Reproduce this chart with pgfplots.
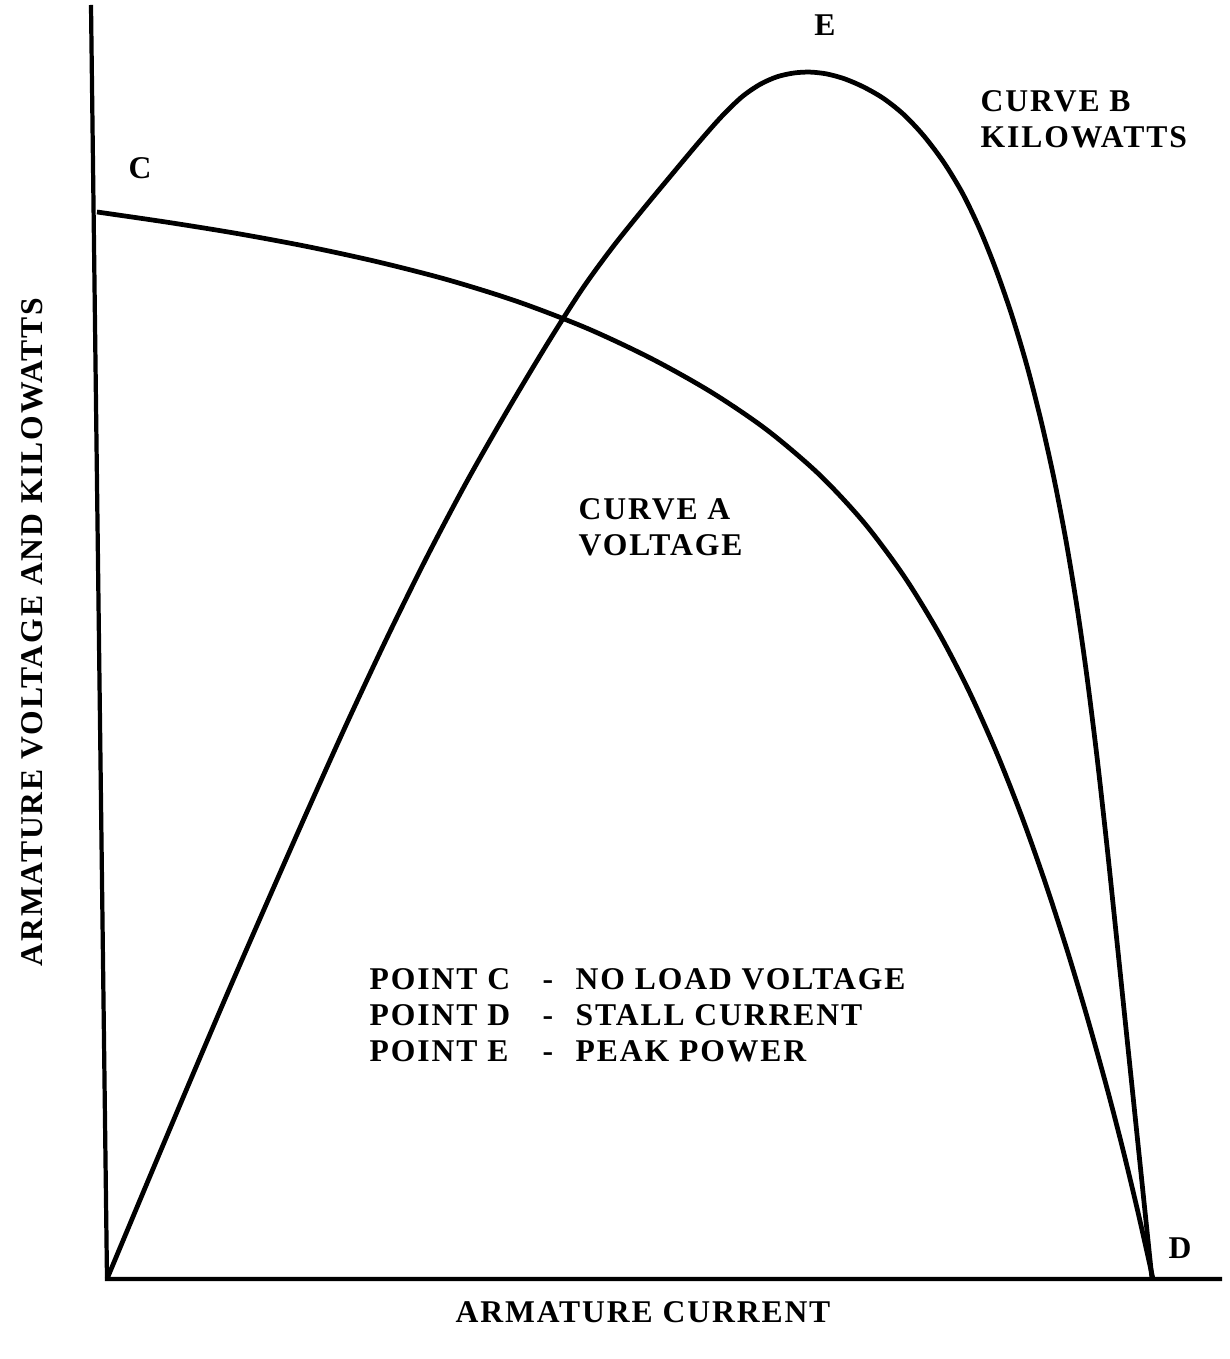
\documentclass[border=0pt]{standalone}
\usepackage{pgfplots}
\pgfplotsset{compat=1.18}
\usepackage{fontspec}
\setmainfont{Liberation Serif}[LetterSpace=6]

\tikzset{lbl/.style={font=\fontsize{9}{10.3}\selectfont\bfseries, align=left, inner sep=0pt}}

\begin{document}
\begin{tikzpicture}
\begin{axis}[
    scale only axis,
    width=123mm,
    height=135.9mm,
    xmin=-107, xmax=1123,
    ymin=-80, ymax=1279,
    axis lines=none,
    ticks=none,
    clip=false,
    every axis plot/.append style={black, line width=1.35pt, no markers},
]

% axes drawn as data lines (y axis leans slightly in the original)
\addplot[line width=1.2pt] coordinates {(-16,1274) (0,0) (1115,0)};

% Curve A: voltage
\addplot[smooth] coordinates {
    (-10,1067) (60,1056.8) (130,1045.5) (200,1032.5) (270,1017.3)
    (340,999.4) (410,977.6) (480,950.7) (545,920.1) (605,886.4)
    (660,849) (712,804.7) (757,756.4) (797,702.8) (832,645.7)
    (862,587.9) (890,525.3) (915,461.9) (938,397.1) (960,329.2)
    (980,262.4) (1000,190.8) (1016,129.1) (1031,66.7) (1046,0)
};

% Curve B: kilowatts
\addplot[smooth] coordinates {
    (0,0) (40,95.7) (80,190.7) (120,284.6) (160,376.4) (200,467.1)
    (240,556) (280,641.2) (320,722.2) (360,797.8) (400,867.9)
    (440,934.7) (475,989.7) (505,1031) (535,1068.5) (565,1104.7)
    (593,1138.1) (615,1162.9) (635,1182.2) (653,1194.6) (670,1202.2)
    (687,1206) (703,1206.9) (720,1205) (738,1200) (757,1191.8)
    (777,1180.2) (797,1164.2) (817,1142.9) (837,1116.3) (856,1084.8)
    (873,1049.2) (889,1009.3) (905,963.2) (920,913) (934,858.4)
    (947,800.4) (959,738.2) (970,672) (980,602) (990,522)
    (1000,432.7) (1009,346.7) (1018,260) (1027,173.4) (1036,86.7)
    (1045,0)
};

\node[lbl] at (axis cs:718,1254) {E};
\node[lbl] at (axis cs:33,1111) {C};
\node[lbl] at (axis cs:1073,31) {D};
\node[lbl, anchor=west] at (axis cs:873,1157) {\strut CURVE B\\\strut KILOWATTS};
\node[lbl, anchor=west] at (axis cs:471,749) {\strut CURVE A\\\strut VOLTAGE};

\node[lbl, anchor=west] at (axis cs:262,261) {\strut POINT C\\\strut POINT D\\\strut POINT E};
\node[lbl] at (axis cs:441,261) {\strut -\\\strut -\\\strut -};
\node[lbl, anchor=west] at (axis cs:468,261) {\strut NO LOAD VOLTAGE\\\strut STALL CURRENT\\\strut PEAK POWER};

\node[lbl] at (axis cs:536,-33) {ARMATURE CURRENT};
\node[lbl, rotate=90] at (axis cs:-75,647) {ARMATURE VOLTAGE AND KILOWATTS};

\coordinate (bl) at (rel axis cs:0,0);
\coordinate (tr) at (rel axis cs:1,1);
\end{axis}
\pgfresetboundingbox
\path (bl) rectangle (tr);
\end{tikzpicture}
\end{document}
